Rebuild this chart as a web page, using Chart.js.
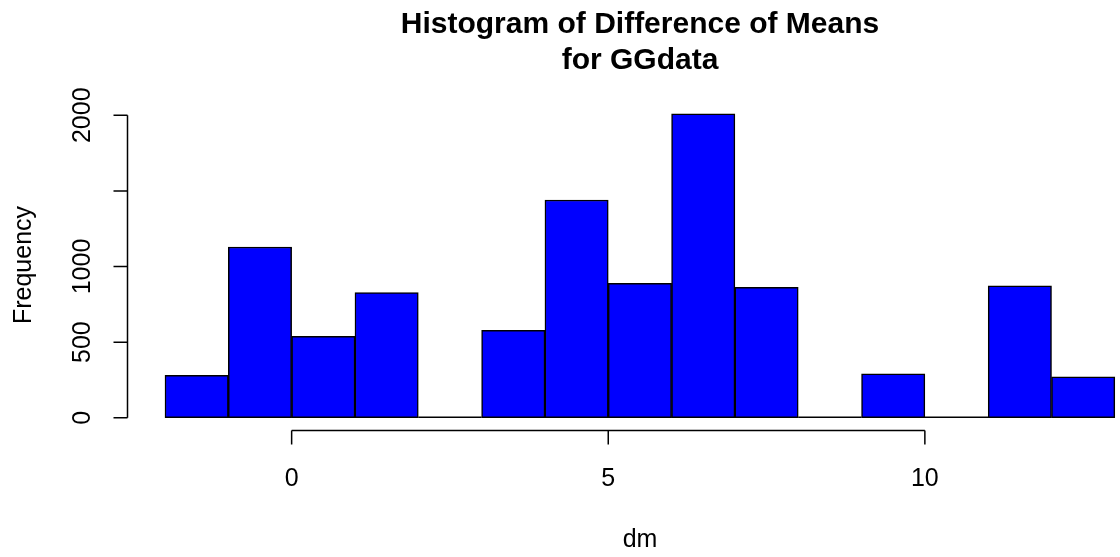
<!DOCTYPE html>
<html>
<head>
<meta charset="utf-8">
<title>Histogram of Difference of Means for GGdata</title>
<script src="https://cdn.jsdelivr.net/npm/chart.js@4.4.1/dist/chart.umd.min.js"></script>
<style>
  html, body { margin: 0; padding: 0; background: #ffffff; }
  #caja { width: 1120px; height: 557px; }
</style>
</head>
<body>
<div id="caja"><canvas id="histograma" width="1120" height="557"></canvas></div>
<script>
// Datos del histograma
const inicioBins = [-2, -1, 0, 1, 2, 3, 4, 5, 6, 7, 8, 9, 10, 11, 12];
const anchoBin = 1;
const frecuencias = [280, 1129, 538, 827, 0, 578, 1440, 889, 2010, 862, 0, 291, 0, 873, 271];

const ticksX = [0, 5, 10];
const ticksY = [0, 500, 1000, 1500, 2000];
const etiquetasY = ["0", "500", "1000", "", "2000"];

const titulo = ["Histogram of Difference of Means", "for GGdata"];
const tituloX = "dm";
const tituloY = "Frequency";

const fuente = "'Liberation Sans', Arial, Helvetica, sans-serif";
const grosorLinea = 1.5;

// Ejes al estilo de R, dibujados con las escalas del grafico
const ejesR = {
    id: 'ejesR',
    beforeDatasetsDraw(chart) {
        // los bins vacios se ven como una linea en y = 0
        const ctx = chart.ctx;
        const x = chart.scales.x, y = chart.scales.y;
        ctx.save();
        ctx.strokeStyle = '#000';
        ctx.lineWidth = grosorLinea;
        inicioBins.forEach(function (b, i) {
            if (frecuencias[i] === 0) {
                const py = y.getPixelForValue(0) - 0.5;
                ctx.beginPath();
                ctx.moveTo(x.getPixelForValue(b), py);
                ctx.lineTo(x.getPixelForValue(b + anchoBin), py);
                ctx.stroke();
            }
        });
        ctx.restore();
    },
    afterDraw(chart) {
        const ctx = chart.ctx;
        const area = chart.chartArea;
        const x = chart.scales.x, y = chart.scales.y;
        const largoTick = 14;
        ctx.save();
        ctx.strokeStyle = '#000';
        ctx.fillStyle = '#000';
        ctx.lineWidth = grosorLinea;

        // eje y
        const ex = area.left + 0.5;
        ctx.beginPath();
        ctx.moveTo(ex, y.getPixelForValue(ticksY[0]));
        ctx.lineTo(ex, y.getPixelForValue(ticksY[ticksY.length - 1]));
        ticksY.forEach(function (v) {
            const py = y.getPixelForValue(v);
            ctx.moveTo(ex, py);
            ctx.lineTo(ex - largoTick, py);
        });
        ctx.stroke();

        ctx.font = '25px ' + fuente;
        ctx.textAlign = 'center';
        ctx.textBaseline = 'alphabetic';
        ticksY.forEach(function (v, i) {
            if (!etiquetasY[i]) return;
            ctx.save();
            ctx.translate(90, y.getPixelForValue(v));
            ctx.rotate(-Math.PI / 2);
            ctx.fillText(etiquetasY[i], 0, 0);
            ctx.restore();
        });

        // eje x
        const ey = area.bottom + 0.5;
        ctx.beginPath();
        ctx.moveTo(x.getPixelForValue(ticksX[0]), ey);
        ctx.lineTo(x.getPixelForValue(ticksX[ticksX.length - 1]), ey);
        ticksX.forEach(function (v) {
            const px = x.getPixelForValue(v);
            ctx.moveTo(px, ey);
            ctx.lineTo(px, ey + largoTick);
        });
        ctx.stroke();
        ticksX.forEach(function (v) {
            ctx.fillText(String(v), x.getPixelForValue(v), 486);
        });

        // titulos de ejes
        const centroX = (area.left + 1153) / 2;
        ctx.fillText(tituloX, centroX, 547);
        ctx.save();
        ctx.translate(31, (area.top + area.bottom) / 2);
        ctx.rotate(-Math.PI / 2);
        ctx.fillText(tituloY, 0, 0);
        ctx.restore();

        // titulo principal
        ctx.font = 'bold 30px ' + fuente;
        ctx.fillText(titulo[0], centroX, 33);
        ctx.fillText(titulo[1], centroX, 69);
        ctx.restore();
    }
};

const puntos = inicioBins.map(function (b, i) {
    return { x: b + anchoBin / 2, y: frecuencias[i] };
});

const ctxHist = document.getElementById('histograma').getContext('2d');
const graficoHist = new Chart(ctxHist, {
    type: 'bar',
    data: {
        datasets: [{
            label: 'dm',
            data: puntos,
            backgroundColor: '#0000ff',
            borderColor: '#000000',
            borderWidth: grosorLinea,
            borderSkipped: false,
            barPercentage: 1,
            categoryPercentage: 1
        }]
    },
    options: {
        responsive: false,
        animation: false,
        layout: {
            padding: { left: 127, right: 2, top: 100, bottom: 127 }
        },
        scales: {
            x: {
                type: 'linear',
                display: false,
                offset: false,
                min: -2.6,
                max: 13.05
            },
            y: {
                display: false,
                min: -81,
                max: 2101
            }
        },
        plugins: {
            legend: { display: false },
            tooltip: { enabled: false },
            title: { display: false }
        }
    },
    plugins: [ejesR]
});
</script>
</body>
</html>
